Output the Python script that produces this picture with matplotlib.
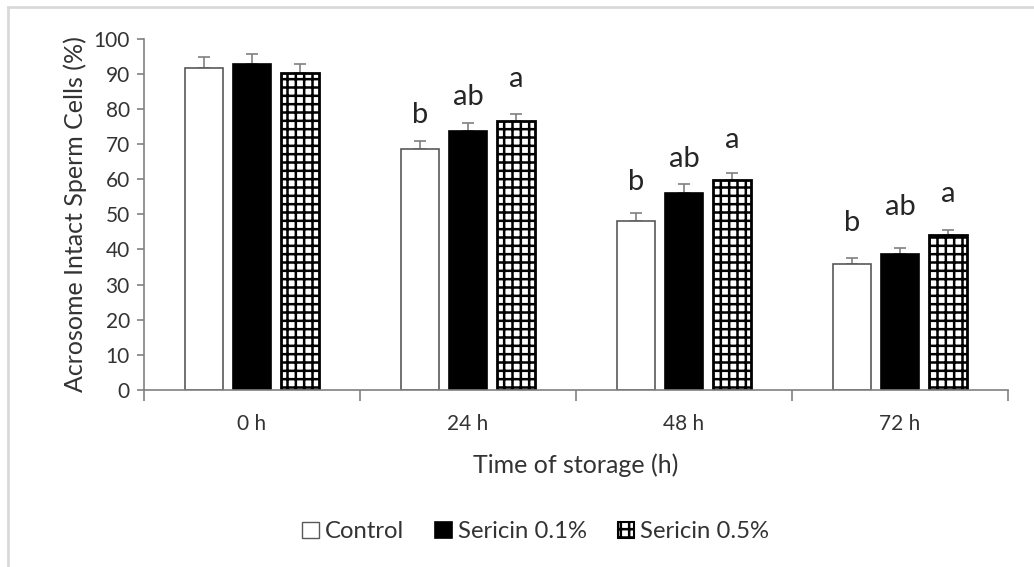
import matplotlib
matplotlib.use("Agg")
import matplotlib.pyplot as plt
import numpy as np
from matplotlib.lines import Line2D
from matplotlib.patches import Patch

plt.rcParams["font.family"] = ["Lato", "DejaVu Sans"]
plt.rcParams["hatch.linewidth"] = 1.8

# data
times = ["0 h", "24 h", "48 h", "72 h"]
series = ["Control", "Sericin 0.1%", "Sericin 0.5%"]
control = [91.7, 68.6, 48.2, 35.8]
control_err = [3.0, 2.2, 2.3, 1.8]
sericin01 = [92.8, 73.8, 56.0, 38.8]
sericin01_err = [2.8, 2.2, 2.5, 1.7]
sericin05 = [90.1, 76.5, 59.7, 44.1]
sericin05_err = [2.6, 2.0, 2.0, 1.4]

# significance letters and where their baselines sit (data units)
letters_control = ["", "b", "b", "b"]
letters_s01 = ["", "ab", "ab", "ab"]
letters_s05 = ["", "a", "a", "a"]
letter_y_control = [0, 76.0, 56.9, 45.2]
letter_y_s01 = [0, 81.1, 63.5, 49.8]
letter_y_s05 = [0, 86.3, 68.8, 53.6]

axis_gray = "#808080"
text_col = "#333333"

fig = plt.figure(figsize=(10.34, 5.67), dpi=100)
ax = fig.add_axes([0.139, 0.312, 0.836, 0.62])

x = np.arange(len(times))
width = 0.176
step = 0.222

styles = [
    dict(facecolor="white", edgecolor="#595959", linewidth=1.2, hatch=None),
    dict(facecolor="black", edgecolor="black", linewidth=1.2, hatch=None),
    dict(facecolor="white", edgecolor="black", linewidth=2.0, hatch="++"),
]
vals = [control, sericin01, sericin05]
errs = [control_err, sericin01_err, sericin05_err]
letters = [letters_control, letters_s01, letters_s05]
letter_y = [letter_y_control, letter_y_s01, letter_y_s05]

for k in range(3):
    pos = x + (k - 1) * step
    ax.errorbar(pos, vals[k], yerr=[np.zeros(len(times)), errs[k]], fmt="none",
                ecolor=axis_gray, elinewidth=1.2, capsize=4.3, capthick=1.2, zorder=1)
    ax.bar(pos, vals[k], width, label=series[k], zorder=2, **styles[k])
    for i in range(len(times)):
        if letters[k][i]:
            ax.text(pos[i], letter_y[k][i], letters[k][i], ha="center", va="baseline",
                    fontsize=21, color="#262626")

ax.set_xlim(-0.5, len(times) - 0.5)
ax.set_ylim(0, 100)
ax.set_yticks(np.arange(0, 101, 10))
ax.set_xticks(x)
ax.set_xticklabels(times)
ax.set_xticks(np.arange(-0.5, len(times), 1.0), minor=True)
ax.tick_params(axis="x", which="major", length=0, pad=17, labelsize=15, labelcolor=text_col)
ax.tick_params(axis="x", which="minor", length=8, width=1.2, color=axis_gray)
ax.tick_params(axis="y", length=5, width=1.2, color=axis_gray, labelsize=15,
               labelcolor=text_col, pad=5)

for side in ["top", "right"]:
    ax.spines[side].set_visible(False)
for side in ["left", "bottom"]:
    ax.spines[side].set_color(axis_gray)
    ax.spines[side].set_linewidth(1.2)

ax.set_ylabel("Acrosome Intact Sperm Cells (%)", fontsize=18, color=text_col, labelpad=5)
ax.set_xlabel("Time of storage (h)", fontsize=18, color=text_col, labelpad=14)

handles = [Patch(**styles[k], label=series[k]) for k in range(3)]
handles[0].set_linewidth(1.0)
handles[2].set_linewidth(1.5)
leg = fig.legend(handles=handles, loc="center", bbox_to_anchor=(0.518, 0.062), ncol=3,
                 frameon=False, fontsize=17.2, handlelength=0.7, handleheight=0.7,
                 handletextpad=0.25, columnspacing=1.3)
for t in leg.get_texts():
    t.set_color(text_col)

# light frame on top and left edge of the screenshot
border = "#d9d9d9"
fig.add_artist(Line2D([8 / 1034, 1.0], [1 - 7 / 567, 1 - 7 / 567], color=border, lw=2,
                      transform=fig.transFigure))
fig.add_artist(Line2D([8 / 1034, 8 / 1034], [0.0, 1 - 7 / 567], color=border, lw=2,
                      transform=fig.transFigure))

fig.savefig("out.png", dpi=100)
